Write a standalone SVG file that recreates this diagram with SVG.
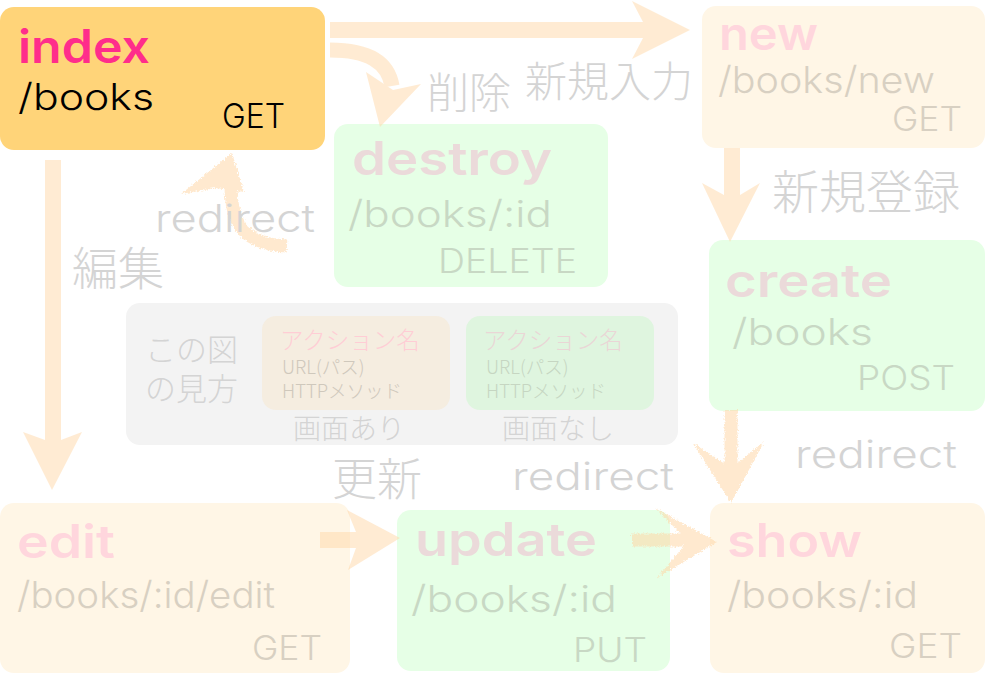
<svg xmlns="http://www.w3.org/2000/svg" width="986" height="675" viewBox="0 0 986 675">
<style>
.lat{font-family:Inter,"Liberation Sans",Arial,sans-serif;font-weight:300}
.jp{font-family:"Noto Sans CJK JP","Noto Sans",sans-serif;font-weight:300}
.nm{font-family:Inter,"Liberation Sans",Arial,sans-serif;font-weight:600;font-size:46px}
.path{font-family:Inter,"Liberation Sans",Arial,sans-serif;font-weight:300;font-size:37px}
.meth{font-family:Inter,"Liberation Sans",Arial,sans-serif;font-weight:300;font-size:34px}
.lbl{fill:#d4d4d4}
.bg-screen{fill:#fff6e6}
.bg-noscreen{fill:#e6ffe6}
.nm-screen{fill:#ffd6dd}
.tx-screen{fill:#d8d0c2}
.nm-noscreen{fill:#ebdada}
.tx-noscreen{fill:#c8d8c4}
.arrow{fill:#ffd8a8}
.shaft{fill:none;stroke:#ffd8a8}
</style>
<defs>
<filter id="rough" x="-20%" y="-20%" width="140%" height="140%">
<feTurbulence type="fractalNoise" baseFrequency="0.7" numOctaves="2" seed="3" result="n"/>
<feDisplacementMap in="SourceGraphic" in2="n" scale="5" xChannelSelector="R" yChannelSelector="G"/>
</filter>
</defs>

<!-- nodes -->
<g id="index">
<rect x="0" y="7" width="325" height="143" rx="14" fill="#ffd479"/>
<text class="nm" x="18" y="63" fill="#ff2d8b" textLength="132" lengthAdjust="spacingAndGlyphs">index</text>
<text class="path" x="18" y="110" fill="#000" textLength="136" lengthAdjust="spacingAndGlyphs">/books</text>
<text class="meth" x="222" y="128" fill="#000" textLength="63" lengthAdjust="spacingAndGlyphs">GET</text>
</g>
<g id="new">
<rect class="bg-screen" x="702" y="6" width="283" height="142" rx="14"/>
<text class="nm nm-screen" x="719" y="50" textLength="99" lengthAdjust="spacingAndGlyphs">new</text>
<text class="path tx-screen" x="718" y="93" textLength="217" lengthAdjust="spacingAndGlyphs">/books/new</text>
<text class="meth tx-screen" x="892" y="131" textLength="70" lengthAdjust="spacingAndGlyphs">GET</text>
</g>
<g id="destroy">
<rect class="bg-noscreen" x="334" y="124" width="274" height="163" rx="14"/>
<text class="nm nm-noscreen" x="352" y="175" textLength="200" lengthAdjust="spacingAndGlyphs">destroy</text>
<text class="path tx-noscreen" x="348" y="227" textLength="204" lengthAdjust="spacingAndGlyphs">/books/:id</text>
<text class="meth tx-noscreen" x="438" y="273" textLength="139" lengthAdjust="spacingAndGlyphs">DELETE</text>
</g>
<g id="create">
<rect class="bg-noscreen" x="709" y="240" width="276" height="171" rx="14"/>
<text class="nm nm-noscreen" x="725" y="297" textLength="167" lengthAdjust="spacingAndGlyphs">create</text>
<text class="path tx-noscreen" x="732" y="345" textLength="141" lengthAdjust="spacingAndGlyphs">/books</text>
<text class="meth tx-noscreen" x="857" y="390" textLength="98" lengthAdjust="spacingAndGlyphs">POST</text>
</g>
<g id="edit">
<rect class="bg-screen" x="0" y="503" width="350" height="170" rx="14"/>
<text class="nm nm-screen" x="17" y="558" textLength="98" lengthAdjust="spacingAndGlyphs">edit</text>
<text class="path tx-screen" x="17" y="608" textLength="258" lengthAdjust="spacingAndGlyphs">/books/:id/edit</text>
<text class="meth tx-screen" x="252" y="660" textLength="70" lengthAdjust="spacingAndGlyphs">GET</text>
</g>
<g id="update">
<rect class="bg-noscreen" x="397" y="510" width="273" height="161" rx="14"/>
<text class="nm nm-noscreen" x="415" y="556" textLength="182" lengthAdjust="spacingAndGlyphs">update</text>
<text class="path tx-noscreen" x="411" y="612" textLength="206" lengthAdjust="spacingAndGlyphs">/books/:id</text>
<text class="meth tx-noscreen" x="573" y="662" textLength="74" lengthAdjust="spacingAndGlyphs">PUT</text>
</g>
<g id="show">
<rect class="bg-screen" x="710" y="503" width="275" height="170" rx="14"/>
<text class="nm nm-screen" x="727" y="557" textLength="135" lengthAdjust="spacingAndGlyphs">show</text>
<text class="path tx-screen" x="727" y="608" textLength="191" lengthAdjust="spacingAndGlyphs">/books/:id</text>
<text class="meth tx-screen" x="889" y="658" textLength="73" lengthAdjust="spacingAndGlyphs">GET</text>
</g>

<!-- legend -->
<g id="legend">
<rect x="126" y="303" width="552" height="142" rx="14" fill="#f3f3f3"/>
<text class="jp lbl" x="145" y="361" font-size="31">この図</text>
<text class="jp lbl" x="145" y="400" font-size="31">の見方</text>
<rect x="262" y="316" width="188" height="94" rx="14" fill="#f5ede0"/>
<text class="jp" x="280" y="349" font-size="23.5" fill="#ffcdd5">アクション名</text>
<text class="jp" x="282" y="374" font-size="18.5" fill="#cfc8bc">URL(パス)</text>
<text class="jp" x="282" y="398" font-size="18.5" fill="#cfc8bc">HTTPメソッド</text>
<text class="jp lbl" x="293" y="439" font-size="28">画面あり</text>
<rect x="466" y="316" width="188" height="94" rx="14" fill="#dff5df"/>
<text class="jp" x="483" y="349" font-size="23.5" fill="#ead6d6">アクション名</text>
<text class="jp" x="486" y="374" font-size="18.5" fill="#c6d6c2">URL(パス)</text>
<text class="jp" x="486" y="398" font-size="18.5" fill="#c6d6c2">HTTPメソッド</text>
<text class="jp lbl" x="502" y="439" font-size="28">画面なし</text>
</g>

<!-- connectors -->
<g id="connectors">
<g opacity="0.5">
<g id="e-index-new"><polygon class="arrow" points="330,22 643,22 632,1 690,30 632,59 643,38 330,38"/></g>
<g id="e-index-destroy"><path class="shaft" stroke-width="15" d="M330,50 C368,50 388,62 392,86"/><polygon class="arrow" points="366,72 393,90 421,84 380,127"/></g>
<g id="e-new-create"><polygon class="arrow" points="724,148 724,195 702,183 730,242 760,183 740,195 740,148"/></g>
<g id="e-index-edit"><polygon class="arrow" points="45,160 45,440 23,432 52,490 82,432 61,440 61,160"/></g>
<g id="e-edit-update"><polygon class="arrow" points="320,532 356,532 347,510 400,538 348,570 356,548 320,548"/></g>
</g>
<g opacity="0.55" filter="url(#rough)">
<g id="e-destroy-index"><path class="shaft" stroke-width="13" d="M231,186 C231,226 245,244 287,246"/><polygon class="arrow" points="232,153 181,194 216,188 244,192"/></g>
<g id="e-create-show"><path class="shaft" stroke-width="13" d="M731,410 V472"/><polygon class="arrow" points="693,443 731,468 764,442 731,503"/></g>
<g id="e-update-show"><path class="shaft" stroke-width="13" d="M632,540 H692"/><polygon class="arrow" points="655,508 688,541 657,578 717,542"/></g>
</g>
</g>

<!-- connector labels -->
<g id="labels">
<text class="jp lbl" x="427" y="108" font-size="42">削除</text>
<text class="jp lbl" x="525" y="97" font-size="42">新規入力</text>
<text class="jp lbl" x="772" y="209" font-size="47">新規登録</text>
<text class="jp lbl" x="72" y="285" font-size="46">編集</text>
<text class="jp lbl" x="332" y="496" font-size="45">更新</text>
<text class="lat lbl" x="155" y="232" font-size="38" textLength="160" lengthAdjust="spacingAndGlyphs">redirect</text>
<text class="lat lbl" x="512" y="490" font-size="38" textLength="162" lengthAdjust="spacingAndGlyphs">redirect</text>
<text class="lat lbl" x="795" y="468" font-size="38" textLength="162" lengthAdjust="spacingAndGlyphs">redirect</text>
</g>
</svg>
